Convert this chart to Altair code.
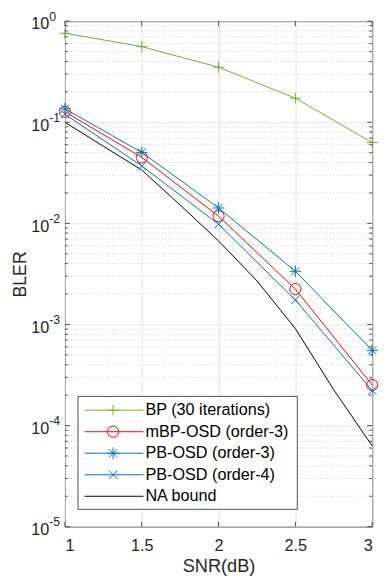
import altair as alt
import pandas as pd

# ---- data ----
snr = [1, 1.5, 2, 2.5, 3]
bp = [0.76, 0.56, 0.35, 0.173, 0.063]
mbp = [0.127, 0.045, 0.0118, 0.00224, 0.000252]
pb3 = [0.136, 0.0504, 0.0142, 0.00336, 0.000555]
pb4 = [0.12, 0.037, 0.0098, 0.00175, 0.000222]
na_snr = [1, 1.25, 1.5, 1.75, 2, 2.25, 2.5, 2.75, 3]
na = [0.1, 0.058, 0.0337, 0.0152, 0.0067, 0.0027, 0.00091, 0.000226, 0.000063]

names = ["BP (30 iterations)", "mBP-OSD (order-3)", "PB-OSD (order-3)",
         "PB-OSD (order-4)", "NA bound"]
colors = ["#77AC30", "#FF0000", "#0072BD", "#0072BD", "#000000"]
x_ticks = [1, 1.5, 2, 2.5, 3]
y_exps = [-5, -4, -3, -2, -1, 0]

PLUS = "M-1,0L1,0M0,-1L0,1"
STAR = "M-1,0L1,0M0,-1L0,1M-0.7,-0.7L0.7,0.7M-0.7,0.7L0.7,-0.7"
XSH = "M-0.7,-0.7L0.7,0.7M-0.7,0.7L0.7,-0.7"
marker_names = names[:4]
marker_shapes = [PLUS, "circle", STAR, XSH]
marker_sizes = [120, 150, 160, 110]

W, H = 313, 515
TXT = "#262626"
FS = 16.5

rows = []
for name, vals in zip(names[:4], [bp, mbp, pb3, pb4]):
    for s, v in zip(snr, vals):
        rows.append({"series": name, "snr": s, "bler": v})
for s, v in zip(na_snr, na):
    rows.append({"series": names[4], "snr": s, "bler": v})
df = pd.DataFrame(rows)
df_pts = df[df["series"] != names[4]]

ysc = alt.Scale(type="log", domain=[1e-5, 1], nice=False)
xsc = alt.Scale(domain=[1, 3], nice=False, zero=False)
color = alt.Color("series:N", scale=alt.Scale(domain=names, range=colors), legend=None)
shape = alt.Shape("series:N", scale=alt.Scale(domain=marker_names, range=marker_shapes), legend=None)
size = alt.Size("series:N", scale=alt.Scale(domain=marker_names, range=marker_sizes), legend=None)

x_enc = alt.X("snr:Q", scale=xsc, title="SNR(dB)",
              axis=alt.Axis(values=x_ticks, format="~g", grid=True, gridColor="#dcdcdc",
                            gridWidth=0.8, ticks=False, domain=False, labelFontSize=FS,
                            labelColor=TXT, labelPadding=11, titleFontSize=18.5,
                            titleFontWeight="normal", titleColor=TXT, titleY=45.7,
                            titleBaseline="alphabetic"))
y_enc = alt.Y("bler:Q", scale=ysc, title="BLER",
              axis=alt.Axis(values=[10.0 ** e for e in y_exps], grid=True, gridColor="#dcdcdc",
                            gridWidth=0.8, labels=False, ticks=False, domain=False,
                            titleFontSize=18, titleFontWeight="normal", titleColor=TXT,
                            titleX=-40, titleY=H / 2, titleAngle=-90,
                            titleBaseline="alphabetic"))

# minor grid / ticks
minor_vals = [m * 10.0 ** e for e in range(-5, 0) for m in range(2, 10)]
mdf = pd.DataFrame({"v": minor_vals})
major_df = pd.DataFrame({"v": [10.0 ** e for e in y_exps],
                         "e": [str(e) for e in y_exps]})
xt_df = pd.DataFrame({"t": x_ticks})

yv = alt.Y("v:Q", scale=ysc, title="BLER")
xt = alt.X("t:Q", scale=xsc, title="SNR(dB)")

minor_grid = alt.Chart(mdf).mark_rule(strokeDash=[1, 2], color="#c4c4c4", strokeWidth=0.8).encode(
    y=yv, x=alt.value(0), x2=alt.value(W))
minor_tick_l = alt.Chart(mdf).mark_rule(color=TXT, strokeWidth=0.8).encode(
    y=yv, x=alt.value(0), x2=alt.value(3))
minor_tick_r = alt.Chart(mdf).mark_rule(color=TXT, strokeWidth=0.8).encode(
    y=yv, x=alt.value(W - 3), x2=alt.value(W))
major_tick_l = alt.Chart(major_df).mark_rule(color=TXT, strokeWidth=0.8).encode(
    y=yv, x=alt.value(0), x2=alt.value(5))
major_tick_r = alt.Chart(major_df).mark_rule(color=TXT, strokeWidth=0.8).encode(
    y=yv, x=alt.value(W - 5), x2=alt.value(W))
x_tick_b = alt.Chart(xt_df).mark_rule(color=TXT, strokeWidth=0.8).encode(
    x=xt, y=alt.value(H), y2=alt.value(H - 5))
x_tick_t = alt.Chart(xt_df).mark_rule(color=TXT, strokeWidth=0.8).encode(
    x=xt, y=alt.value(0), y2=alt.value(5))

y_lab_base = alt.Chart(major_df).mark_text(align="right", baseline="middle", fontSize=FS,
                                           dy=3.4, color=TXT).encode(
    y=yv, x=alt.value(-16), text=alt.value("10"))
y_lab_exp = alt.Chart(major_df).mark_text(align="left", baseline="middle", fontSize=12.5,
                                          dy=-4.3, color=TXT).encode(
    y=yv, x=alt.value(-16), text="e:N")

lines = alt.Chart(df).mark_line(strokeWidth=1).encode(
    x=x_enc, y=y_enc, color=color, order=alt.Order("snr:Q"))
points = alt.Chart(df_pts).mark_point(filled=False, strokeWidth=1, opacity=1).encode(
    x=alt.X("snr:Q", scale=xsc, title="SNR(dB)"),
    y=alt.Y("bler:Q", scale=ysc, title="BLER"),
    color=color, shape=shape, size=size)

main = alt.layer(minor_grid, lines, points, minor_tick_l, minor_tick_r, major_tick_l,
                 major_tick_r, x_tick_b, x_tick_t, y_lab_base, y_lab_exp)

# ---- legend built from the series names ----
leg_df = pd.DataFrame({"series": names, "row": list(range(len(names)))})
leg_pts_df = leg_df[leg_df["series"] != names[4]]
ry = alt.Y("row:Q", scale=alt.Scale(domain=[0, 4], range=[396.3, 484]), axis=None)

leg_box = alt.Chart(leg_df.head(1)).mark_rect(fill="white", stroke=TXT, strokeWidth=0.8).encode(
    x=alt.value(13.3), x2=alt.value(236.7), y=alt.value(382.3), y2=alt.value(497.3))
leg_lines = alt.Chart(leg_df).mark_rule(strokeWidth=1).encode(
    y=ry, x=alt.value(20), x2=alt.value(80), color=color)
leg_pts = alt.Chart(leg_pts_df).mark_point(filled=False, strokeWidth=1, opacity=1).encode(
    y=ry, x=alt.value(49), color=color, shape=shape, size=size)
leg_txt = alt.Chart(leg_df).mark_text(align="left", baseline="middle", fontSize=FS,
                                      color="#000000").encode(
    y=ry, x=alt.value(82), text="series:N")

legend = alt.layer(leg_box, leg_lines, leg_pts, leg_txt)

chart = alt.layer(main, legend).resolve_scale(y="independent").properties(
    width=W, height=H,
    autosize=alt.AutoSizeParams(type="none"),
    padding={"left": 58, "top": 8, "right": 10, "bottom": 55},
).configure(font="Liberation Sans").configure_view(stroke=TXT, strokeWidth=1)

chart.save("out.html", embed_options={"renderer": "svg", "actions": False})
